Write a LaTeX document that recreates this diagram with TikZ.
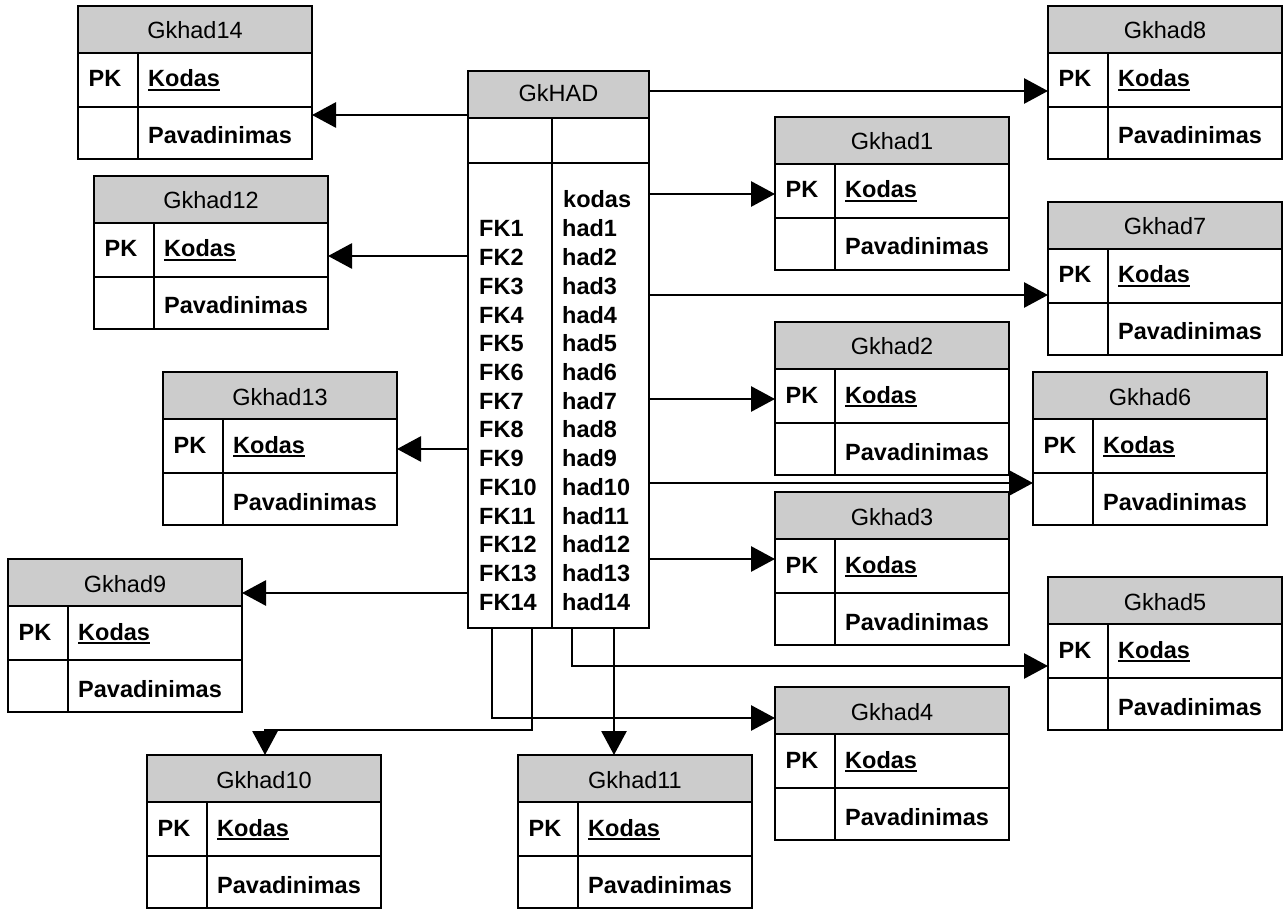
\documentclass[tikz,border=0pt]{standalone}
\usepackage{fontspec}
\setmainfont{Liberation Sans}
\usetikzlibrary{arrows.meta,calc}
\definecolor{hdrgray}{RGB}{204,204,204}

% underlined key field
\newcommand{\keyul}[1]{\setbox0\hbox{#1}\rlap{\rule[-4.3pt]{\wd0}{2pt}}\box0}

\tikzset{
  tblline/.style={line width=1.9pt},
  conn/.style={line width=2.9pt, -{Triangle[length=24pt,width=25pt]}},
  hdrtext/.style={anchor=base, inner sep=0pt, font=\fontsize{23.5}{28.7}\selectfont},
  celltext/.style={anchor=base west, inner sep=0pt, font=\fontsize{23.5}{28.7}\selectfont\bfseries},
  frame/.style={draw, tblline, anchor=north west, inner sep=0pt, outer sep=0pt},
}

% entity box: name, left x, top y, title
\newcommand{\ertable}[4]{%
  \fill[hdrgray] (#2,#3) rectangle ++(234,47);
  \draw[tblline] (#2,{#3+47}) -- ++(234,0)
                 (#2,{#3+101}) -- ++(234,0)
                 ({#2+60},{#3+47}) -- ++(0,106);
  \node[frame, minimum width=234pt, minimum height=153pt] (#1) at (#2,#3) {};
  \node[hdrtext] (#1-title) at ({#2+117},{#3+33}) {#4};
  \node[celltext, anchor=base] (#1-pk) at ({#2+27},{#3+81}) {PK};
  \node[celltext] (#1-key) at ({#2+70},{#3+81}) {\keyul{Kodas}};
  \node[celltext] (#1-name) at ({#2+70},{#3+138}) {Pavadinimas};
}

\begin{document}
\begin{tikzpicture}[x=1pt,y=-1pt]
\useasboundingbox (0,0) rectangle (1288,909);

% main entity
\fill[hdrgray] (468,71) rectangle (649,118);
\draw[tblline] (468,118) -- (649,118)
               (468,163) -- (649,163)
               (552,118) -- (552,628);
\node[frame, minimum width=181pt, minimum height=557pt] (gkhad) at (468,71) {};
\node[hdrtext] (gkhad-title) at (558.5,102) {GkHAD};
\node[celltext] (gkhad-kodas) at (563,208) {kodas};
\foreach \i in {1,...,14} {
  \node[celltext] (fk\i) at (479,{237+(\i-1)*28.7}) {FK\i};
  \node[celltext] (had\i) at (562,{237+(\i-1)*28.7}) {had\i};
}

% lookup entities
\ertable{g14}{78}{6}{Gkhad14}
\ertable{g8}{1048}{6}{Gkhad8}
\ertable{g1}{775}{117}{Gkhad1}
\ertable{g12}{94}{176}{Gkhad12}
\ertable{g7}{1048}{202}{Gkhad7}
\ertable{g2}{775}{322}{Gkhad2}
\ertable{g13}{163}{372}{Gkhad13}
\ertable{g6}{1033}{372}{Gkhad6}
\ertable{g3}{775}{492}{Gkhad3}
\ertable{g9}{8}{559}{Gkhad9}
\ertable{g5}{1048}{577}{Gkhad5}
\ertable{g4}{775}{687}{Gkhad4}
\ertable{g10}{147}{755}{Gkhad10}
\ertable{g11}{518}{755}{Gkhad11}

% references
\draw[conn] (gkhad.west |- 0,115) -- (g14.east |- 0,115);
\draw[conn] (gkhad.east |- 0,91) -- (g8.west |- 0,91);
\draw[conn] (gkhad.east |- 0,194) -- (g1.west |- 0,194);
\draw[conn] (gkhad.west |- 0,256) -- (g12.east |- 0,256);
\draw[conn] (gkhad.east |- 0,295) -- (g7.west |- 0,295);
\draw[conn] (gkhad.east |- 0,399) -- (g2.west |- 0,399);
\draw[conn] (gkhad.west |- 0,449) -- (g13.east |- 0,449);
\draw[conn] (gkhad.east |- 0,483) -- (g6.west |- 0,483);
\draw[conn] (gkhad.east |- 0,559) -- (g3.west |- 0,559);
\draw[conn] (gkhad.west |- 0,593) -- (g9.east |- 0,593);
\draw[conn] (gkhad.south -| 572,0) |- (g5.west |- 0,666);
\draw[conn] (gkhad.south -| 614,0) -- (g11.north -| 614,0);
\draw[conn] (gkhad.south -| 492,0) |- (g4.west |- 0,718);
\coordinate (bend10) at (265,730);
\draw[conn] (gkhad.south -| 532,0) |- (bend10) -- (g10.north -| bend10);
\end{tikzpicture}
\end{document}
